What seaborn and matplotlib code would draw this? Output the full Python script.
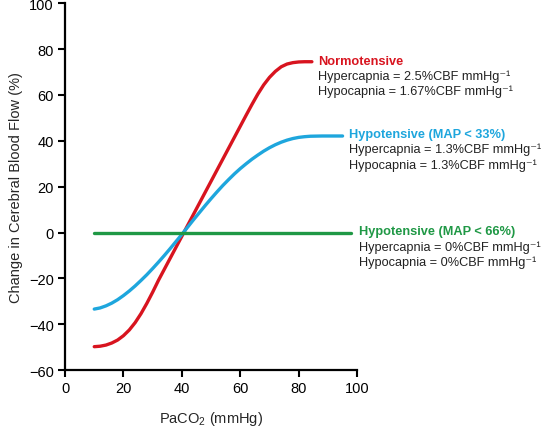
import numpy as np
import pandas as pd
import matplotlib
matplotlib.use('Agg')
import matplotlib.pyplot as plt
import seaborn as sns

# Curves
paco2_normo = [10, 12, 14, 16, 18, 20, 22, 24, 26, 28, 30, 32, 34, 36, 38, 40, 42, 44, 46, 48,
               50, 52, 54, 56, 58, 60, 62, 64, 66, 68, 70, 72, 74, 76, 78, 80, 82, 84.5]
cbf_normo = [-49.8, -49.6, -49.1, -48.2, -46.9, -45.0, -42.5, -39.3, -35.4, -30.9, -26.0, -20.8,
             -16.0, -11.2, -6.4, -1.6, 3.2, 8.0, 12.8, 17.6, 22.4, 27.2, 32.0, 36.8, 41.6, 46.4,
             51.2, 55.9, 60.4, 64.4, 67.7, 70.3, 72.3, 73.5, 74.1, 74.4, 74.5, 74.5]

paco2_hypo33 = [10, 12, 14, 16, 18, 20, 22, 24, 26, 28, 30, 32, 34, 36, 38, 40, 42, 44, 46, 48,
                50, 52, 54, 56, 58, 60, 62, 64, 66, 68, 70, 72, 74, 76, 78, 80, 82, 84, 88, 95]
cbf_hypo33 = [-33.4, -32.9, -32, -30.8, -29.3, -27.5, -25.5, -23.3, -20.9, -18.4, -15.7, -12.9,
              -10, -7, -3.9, -0.8, 2.4, 5.6, 8.7, 11.8, 14.8, 17.7, 20.5, 23.1, 25.6, 27.9, 30,
              32, 33.8, 35.5, 37, 38.3, 39.4, 40.3, 41, 41.5, 41.8, 42, 42.1, 42.1]

paco2_hypo66 = [10, 98]
cbf_hypo66 = [0, 0]

labels = ['Normotensive', 'Hypotensive (MAP < 33%)', 'Hypotensive (MAP < 66%)']
hyper_rates = ['2.5', '1.3', '0']
hypo_rates = ['1.67', '1.3', '0']
colors = ['#d8141f', '#1ea6dd', '#1f9845']

df = pd.concat([
    pd.DataFrame({'paco2': paco2_normo, 'cbf': cbf_normo, 'group': labels[0]}),
    pd.DataFrame({'paco2': paco2_hypo33, 'cbf': cbf_hypo33, 'group': labels[1]}),
    pd.DataFrame({'paco2': paco2_hypo66, 'cbf': cbf_hypo66, 'group': labels[2]}),
])

sns.set_style('ticks')
plt.rcParams['font.family'] = ['Liberation Sans', 'DejaVu Sans']
plt.rcParams['mathtext.default'] = 'regular'

fig = plt.figure(figsize=(5.42, 4.27), dpi=100)
ax = fig.add_axes([0.12, 0.131, 0.539, 0.859])

for lab, col in zip(labels, colors):
    sub = df[df['group'] == lab]
    sns.lineplot(data=sub, x='paco2', y='cbf', color=col, lw=2.4, ax=ax,
                 estimator=None, sort=False, legend=False)

ax.set_xlim(0, 100)
ax.set_ylim(-60, 100)
ax.set_xticks(np.arange(0, 101, 20))
ax.set_yticks(np.arange(-60, 101, 20))
for s in ['top', 'right']:
    ax.spines[s].set_visible(False)
for s in ['left', 'bottom']:
    ax.spines[s].set_linewidth(1.6)
    ax.spines[s].set_color('black')
ax.tick_params(axis='both', direction='out', length=5, width=1.5, labelsize=10.5,
               colors='black', pad=3)
ax.set_xlabel('PaCO$_2$ (mmHg)', fontsize=10.5, labelpad=10)
ax.set_ylabel('Change in Cerebral Blood Flow (%)', fontsize=10.5, labelpad=4)

# annotations to the right of each curve
label_pos = [(86.5, 75), (97.3, 43), (100.5, 0.5)]
for (x, y), lab, col, hr, hp in zip(label_pos, labels, colors, hyper_rates, hypo_rates):
    ax.text(x, y, lab, color=col, fontsize=9.2, fontweight='bold', va='center',
            ha='left', clip_on=False)
    ax.text(x, y - 6.6, 'Hypercapnia = ' + hr + '%CBF mmHg⁻¹', color='#222222',
            fontsize=9.2, va='center', ha='left', clip_on=False)
    ax.text(x, y - 13.3, 'Hypocapnia = ' + hp + '%CBF mmHg⁻¹', color='#222222',
            fontsize=9.2, va='center', ha='left', clip_on=False)

fig.savefig('out.png', dpi=100)
